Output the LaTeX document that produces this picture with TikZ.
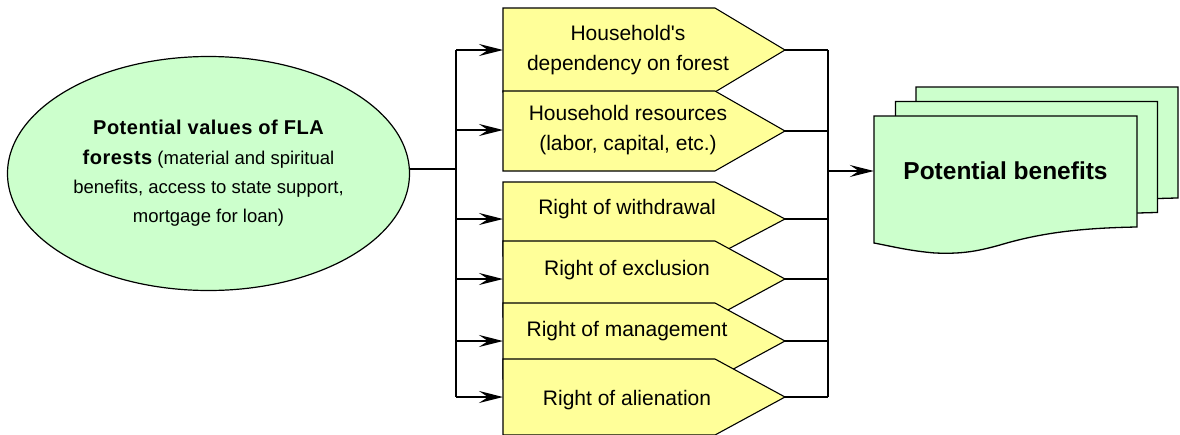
\documentclass[tikz,border=0pt]{standalone}
\usepackage{fontspec}
\setmainfont{Liberation Sans}
\usetikzlibrary{arrows.meta,shapes.geometric}
\definecolor{ylw}{HTML}{FFFF99}
\definecolor{grn}{HTML}{CCFFCC}
\begin{document}
\begin{tikzpicture}[x=1pt,y=-1pt,
  conn/.style={line width=1.5pt},
  arr/.style={conn,-{Stealth[length=24pt,width=12pt,inset=9pt]}},
  sigbox/.style={draw,fill=ylw,line width=1.1pt,line join=miter},
  lbl/.style={font=\fontsize{21}{30}\selectfont,align=center,inner sep=0pt},
  docbox/.style={draw,fill=grn,line width=1.3pt,line join=miter}]
\useasboundingbox (0,0) rectangle (1180,434);

% ellipse
\node[ellipse,draw,fill=grn,line width=1.2pt,minimum width=402pt,minimum height=234pt,
      align=center,inner sep=0pt,font=\fontsize{18.5}{29.3}\selectfont] (val) at (208.5,173.5)
  {{\fontsize{20}{29.3}\selectfont\bfseries\addfontfeature{LetterSpace=2.5}Potential values of FLA}\\
   {\fontsize{20}{29.3}\selectfont\bfseries\addfontfeature{LetterSpace=2.5}forests} (material and spiritual\\
   benefits, access to state support,\\
   mortgage for loan)};

% signal shapes
\draw[sigbox] (503,8)   -- (715,8)   -- (785,50)  -- (715,92)  -- (503,92)  -- cycle;
\draw[sigbox] (503,91)  -- (715,91)  -- (785,131) -- (715,171) -- (503,171) -- cycle;
\draw[sigbox] (503,182) -- (715,182) -- (785,219) -- (715,256) -- (503,256) -- cycle;
\draw[sigbox] (503,241) -- (715,241) -- (785,279) -- (715,317) -- (503,317) -- cycle;
\draw[sigbox] (503,303) -- (715,303) -- (785,341) -- (715,379) -- (503,379) -- cycle;
\draw[sigbox] (503,359) -- (715,359) -- (785,397) -- (715,435) -- (503,435) -- cycle;

\node[lbl] (s1) at (628,50) {Household\textquotesingle s\\dependency on forest};
\node[lbl] (s2) at (628,130) {Household resources\\(labor, capital, etc.)};
\node[lbl,anchor=base] (s3) at (627,214) {Right of withdrawal};
\node[lbl,anchor=base] (s4) at (627,275) {Right of exclusion};
\node[lbl,anchor=base] (s5) at (627,336) {Right of management};
\node[lbl,anchor=base] (s6) at (627,405) {Right of alienation};

% coordinates
\coordinate (lbm) at (456,169);
\coordinate (lb1) at (456,50);   \coordinate (in1) at (503,50);  \coordinate (tp1) at (785,50);  \coordinate (rb1) at (828,50);
\coordinate (lb2) at (456,130);  \coordinate (in2) at (503,130); \coordinate (tp2) at (785,131); \coordinate (rb2) at (828,131);
\coordinate (lb3) at (456,219);  \coordinate (in3) at (503,219); \coordinate (tp3) at (785,219); \coordinate (rb3) at (828,219);
\coordinate (lb4) at (456,279);  \coordinate (in4) at (503,279); \coordinate (tp4) at (785,279); \coordinate (rb4) at (828,279);
\coordinate (lb5) at (456,341);  \coordinate (in5) at (503,341); \coordinate (tp5) at (785,341); \coordinate (rb5) at (828,341);
\coordinate (lb6) at (456,397);  \coordinate (in6) at (503,397); \coordinate (tp6) at (785,397); \coordinate (rb6) at (828,397);
\coordinate (rbm) at (828,171);

% left connectors
\draw[conn] (val.east |- lbm) -- (lbm);
\draw[conn] (lb1) -- (lb6);
\foreach \i in {1,...,6} {\draw[arr] (lb\i) -- (in\i);}

% right connectors
\foreach \i in {1,...,6} {\draw[conn] (tp\i) -- (rb\i);}
\draw[conn] (rb1) -- (rb6);

% multi-document
\begin{scope}[shift={(41,-29)}]
\draw[docbox] (875,116) -- (1137,116) -- (1137,227) .. controls (1080,228) and (1040,233) .. (1000,245)
  .. controls (975,252) and (960,254) .. (935,253) .. controls (910,251) and (890,246) .. (875,243) -- cycle;
\end{scope}
\begin{scope}[shift={(20.5,-14.5)}]
\draw[docbox] (875,116) -- (1137,116) -- (1137,227) .. controls (1080,228) and (1040,233) .. (1000,245)
  .. controls (975,252) and (960,254) .. (935,253) .. controls (910,251) and (890,246) .. (875,243) -- cycle;
\end{scope}
\draw[docbox] (874,116) -- (1137,116) -- (1137,227) .. controls (1080,228) and (1040,233) .. (1000,245)
  .. controls (975,252) and (960,254) .. (935,253) .. controls (910,251) and (890,246) .. (874,243) -- cycle;
\node[inner sep=0pt,minimum width=263pt,minimum height=110pt,
      font=\fontsize{24.5}{28}\selectfont\bfseries] (ben) at (1005.5,171) {Potential benefits};

\draw[arr] (rbm) -- (ben.west);
\end{tikzpicture}
\end{document}
